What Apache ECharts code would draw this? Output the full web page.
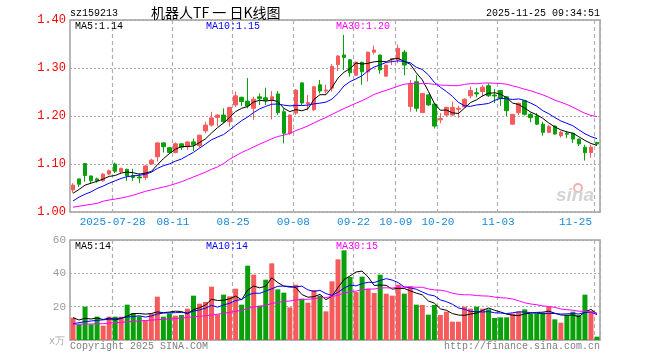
<!DOCTYPE html>
<html>
<head>
<meta charset="utf-8">
<script src="https://cdn.jsdelivr.net/npm/echarts@6/dist/echarts.min.js"></script>
<style>html,body{margin:0;padding:0;background:#fff;}#c{width:660px;height:360px;}</style>
</head>
<body>
<div id="c"></div>
<script>
// ---- data ----
const dates = [
'2025-07-17','2025-07-18','2025-07-21','2025-07-22','2025-07-23','2025-07-24','2025-07-25','2025-07-28','2025-07-29','2025-07-30','2025-07-31',
'2025-08-01','2025-08-04','2025-08-05','2025-08-06','2025-08-07','2025-08-08','2025-08-11','2025-08-12','2025-08-13','2025-08-14','2025-08-15',
'2025-08-18','2025-08-19','2025-08-20','2025-08-21','2025-08-22','2025-08-25','2025-08-26','2025-08-27','2025-08-28','2025-08-29',
'2025-09-01','2025-09-02','2025-09-03','2025-09-04','2025-09-05','2025-09-08','2025-09-09','2025-09-10','2025-09-11','2025-09-12',
'2025-09-15','2025-09-16','2025-09-17','2025-09-18','2025-09-19','2025-09-22','2025-09-23','2025-09-24','2025-09-25','2025-09-26',
'2025-09-29','2025-09-30','2025-10-09','2025-10-10','2025-10-13','2025-10-14','2025-10-15','2025-10-16','2025-10-17','2025-10-20',
'2025-10-21','2025-10-22','2025-10-23','2025-10-24','2025-10-27','2025-10-28','2025-10-29','2025-10-30','2025-10-31',
'2025-11-03','2025-11-04','2025-11-05','2025-11-06','2025-11-07','2025-11-10','2025-11-11','2025-11-12','2025-11-13','2025-11-14',
'2025-11-17','2025-11-18','2025-11-19','2025-11-20','2025-11-21','2025-11-24','2025-11-25'
];
const opens = [
1.046,1.069,1.101,1.075,1.069,1.065,1.079,1.100,1.084,1.089,1.076,1.073,1.072,1.100,1.115,1.144,1.134,1.124,1.142,1.136,
1.146,1.138,1.169,1.181,1.197,1.202,1.188,1.223,1.239,1.231,1.216,1.240,1.238,1.233,1.246,1.209,1.164,1.206,1.269,1.225,
1.213,1.265,1.252,1.258,1.307,1.327,1.317,1.285,1.312,1.292,1.333,1.327,1.283,1.317,1.317,1.333,1.220,1.2715,1.207,1.244,
1.225,1.192,1.202,1.202,1.214,1.219,1.242,1.2485,1.251,1.263,1.2437,1.253,1.240,1.183,1.207,1.232,1.2035,1.200,1.183,1.166,
1.179,1.159,1.164,1.164,1.152,1.135,1.124,1.145
];
const closes = [
1.056,1.058,1.076,1.065,1.065,1.079,1.086,1.085,1.091,1.075,1.072,1.071,1.096,1.108,1.144,1.136,1.124,1.142,1.135,1.146,
1.140,1.160,1.181,1.196,1.202,1.188,1.218,1.242,1.230,1.221,1.235,1.236,1.233,1.240,1.207,1.164,1.202,1.254,1.227,1.228,
1.261,1.252,1.254,1.303,1.325,1.322,1.290,1.312,1.292,1.333,1.3375,1.296,1.306,1.320,1.341,1.306,1.266,1.216,1.247,1.223,
1.179,1.195,1.218,1.218,1.216,1.235,1.253,1.246,1.260,1.242,1.2417,1.237,1.211,1.2035,1.2265,1.2035,1.1965,1.183,1.166,1.178,
1.1625,1.166,1.162,1.152,1.1417,1.1235,1.135,1.1417
];
const lows = [
1.040,1.052,1.063,1.060,1.061,1.063,1.077,1.081,1.079,1.065,1.065,1.060,1.067,1.098,1.105,1.124,1.121,1.122,1.129,1.129,
1.127,1.134,1.164,1.178,1.178,1.185,1.178,1.219,1.221,1.216,1.192,1.223,1.223,1.193,1.202,1.143,1.160,1.202,1.223,1.212,
1.210,1.247,1.247,1.251,1.294,1.296,1.282,1.284,1.265,1.272,1.328,1.288,1.282,1.306,1.310,1.285,1.209,1.209,1.206,1.221,
1.174,1.185,1.199,1.200,1.196,1.217,1.237,1.239,1.240,1.240,1.227,1.221,1.200,1.182,1.202,1.201,1.187,1.181,1.159,1.164,
1.161,1.155,1.154,1.144,1.1375,1.107,1.113,1.138
];
const highs = [
1.060,1.069,1.102,1.076,1.0715,1.081,1.088,1.103,1.092,1.090,1.090,1.081,1.098,1.111,1.145,1.145,1.135,1.145,1.143,1.147,
1.153,1.161,1.188,1.209,1.203,1.216,1.219,1.251,1.240,1.279,1.240,1.247,1.259,1.252,1.252,1.216,1.203,1.256,1.270,1.244,
1.262,1.275,1.265,1.308,1.327,1.369,1.318,1.313,1.313,1.334,1.3465,1.328,1.307,1.320,1.349,1.3375,1.275,1.285,1.248,1.245,
1.226,1.206,1.219,1.230,1.221,1.237,1.261,1.258,1.265,1.268,1.256,1.254,1.241,1.204,1.228,1.233,1.207,1.206,1.188,1.181,
1.180,1.169,1.169,1.165,1.153,1.140,1.140,1.146
];
const volumes = [
13.4,9.4,20,9.4,14,8.6,14,14,14,21.2,16.2,14.2,12,15.8,26,14,16,14.6,15,18.8,
26.6,21.8,22.8,32,15.4,27.2,26.2,30.8,21.2,44.6,39.2,20.6,36.2,46,30.4,28.4,19.6,33.2,24.8,22.4,
30,26.6,17.2,35.2,48.4,53.8,37.8,28.8,38,30.8,28.2,39.2,27.8,26.6,33.2,27.8,32,21.2,21,15.2,
21,15,17,11,11,20,18.8,20,18.8,18.4,13.2,13.6,13.6,15.8,17,18.4,15.8,15.8,16.4,20,
12.4,10.4,15,17,15,27.2,17.4,2
];
// moving-average values for days before enough history is visible
const ma5Early  = [1.039,1.047,1.056,1.060];
const ma10Early = [1.023,1.031,1.037,1.042,1.049,1.054,1.060,1.065,1.070];
const ma30Early = [1.010,1.012,1.014,1.016,1.018,1.0225,1.025,1.027,1.029,1.032,1.035,1.039,1.043,1.046,1.049,
                   1.052,1.055,1.059,1.063,1.068,1.073,1.078,1.083,1.089,1.094,1.101,1.110,1.117,1.124];
const vma5Early  = [13.4,12.0,13.0,12.6];
const vma10Early = [9.8,10.4,11.0,11.4,11.8,12.1,12.4,12.8,13.2];
const vma30Early = [9.4,9.5,9.5,9.6,9.7,9.8,10.1,10.4,10.6,10.9,11.2,11.4,11.7,11.9,12.2,
                    12.4,12.6,12.9,13.1,13.6,13.9,14.2,14.6,15.0,15.5,16.0,16.6,17.2,17.8];
const tickDates = ['2025-07-28','2025-08-11','2025-08-25','2025-09-08','2025-09-22','2025-10-09','2025-10-20','2025-11-03','2025-11-25'];
const tickTexts = ['2025-07-28','08-11','08-25','09-08','09-22','10-09','10-20','11-03','11-25'];
const priceMALabels = ['MA5:1.14','MA10:1.15','MA30:1.20'];
const volMALabels = ['MA5:14','MA10:14','MA30:15'];
const headerCode = 'sz159213';
const headerTitle = '机器人TF 一 日K线图';
const headerTime = '2025-11-25 09:34:51';

// ---- build ----
function ma(arr, n, early) {
  return arr.map(function (_, i) {
    if (i < n - 1) return early[i];
    let s = 0;
    for (let k = i - n + 1; k <= i; k++) s += arr[k];
    return +(s / n).toFixed(4);
  });
}
const RED = '#f65b5b', GREEN = '#0aa00a';
const MONO = 'Liberation Mono';
const kData = dates.map((d, i) => [opens[i], closes[i], lows[i], highs[i]]);
const volData = volumes.map((v, i) => ({ value: v, itemStyle: { color: closes[i] >= opens[i] ? RED : GREEN } }));
const tickIdx = tickDates.map(d => dates.indexOf(d));
const showTick = function (index) { return tickIdx.indexOf(index) >= 0; };

function xAxisCfg(grid, labels) {
  return {
    type: 'category', gridIndex: grid, data: dates, boundaryGap: true,
    axisLine: { show: false }, axisTick: { show: false },
    axisLabel: {
      show: labels, interval: showTick, color: '#1a88d6', fontFamily: MONO, fontSize: 11,
      margin: 5, padding: [0, 5, 0, 0], alignMaxLabel: 'right',
      formatter: function (v) { return tickTexts[tickDates.indexOf(v)] || ''; }
    },
    splitLine: { show: true, interval: showTick, lineStyle: { color: '#b0b0b0', type: [4, 3], width: 1.2 } }
  };
}
const lineCfg = (name, data, color, xi, yi) => ({
  name: name, type: 'line', data: data, xAxisIndex: xi, yAxisIndex: yi,
  showSymbol: false, symbol: 'none', silent: true, animation: false,
  lineStyle: { color: color, width: 1 }
});

const chart = echarts.init(document.getElementById('c'), null, { renderer: 'canvas' });
const txt = (t, x, y, color, size, font, align) => ({
  type: 'text', x: x, y: y, z: 100,
  style: { text: t, fill: color, font: (size || 10) + 'px ' + (font || MONO), textAlign: align || 'left', textVerticalAlign: 'middle' }
});
chart.setOption({
  animation: false,
  backgroundColor: '#fff',
  grid: [
    { left: 70, top: 20, width: 530, height: 192, show: true, borderColor: '#a0a0a0', borderWidth: 1.5, backgroundColor: 'transparent' },
    { left: 70, top: 240, width: 530, height: 100, show: true, borderColor: '#a0a0a0', borderWidth: 1.5, backgroundColor: 'transparent' }
  ],
  xAxis: [xAxisCfg(0, true), xAxisCfg(1, false)],
  yAxis: [
    { type: 'value', gridIndex: 0, min: 1.0, max: 1.4, interval: 0.1, scale: true,
      axisLine: { show: false }, axisTick: { show: false },
      axisLabel: { color: '#ff0000', fontFamily: MONO, fontSize: 12, margin: 4, formatter: v => v.toFixed(2) },
      splitLine: { lineStyle: { color: '#aaaaaa', type: [2, 2], width: 1 } } },
    { type: 'value', gridIndex: 1, min: 0, max: 60, interval: 20,
      axisLine: { show: false }, axisTick: { show: false },
      axisLabel: { color: '#999999', fontFamily: MONO, fontSize: 11, margin: 4, formatter: v => v === 0 ? '' : String(v) },
      splitLine: { lineStyle: { color: '#aaaaaa', type: [2, 2], width: 1 } } }
  ],
  series: [
    { name: 'K', type: 'candlestick', data: kData, xAxisIndex: 0, yAxisIndex: 0, barWidth: 4,
      itemStyle: { color: RED, color0: GREEN, borderColor: RED, borderColor0: GREEN, borderWidth: 1 } },
    lineCfg('MA5', ma(closes, 5, ma5Early), '#000000', 0, 0),
    lineCfg('MA10', ma(closes, 10, ma10Early), '#0000ff', 0, 0),
    lineCfg('MA30', ma(closes, 30, ma30Early), '#ff00ff', 0, 0),
    { name: 'VOL', type: 'bar', data: volData, xAxisIndex: 1, yAxisIndex: 1, barWidth: 5 },
    lineCfg('VMA5', ma(volumes, 5, vma5Early), '#000000', 1, 1),
    lineCfg('VMA10', ma(volumes, 10, vma10Early), '#0000ff', 1, 1),
    lineCfg('VMA30', ma(volumes, 30, vma30Early), '#ff00ff', 1, 1)
  ],
  graphic: [
    txt(headerCode, 70, 13, '#000', 10),
    txt(headerTitle, 151, 13, '#000', 14, '"Noto Sans CJK SC"'),
    txt(headerTime, 600, 13, '#000', 10, MONO, 'right'),
    txt(priceMALabels[0], 75, 26, '#000000', 10),
    txt(priceMALabels[1], 206, 26, '#0000ff', 10),
    txt(priceMALabels[2], 336, 26, '#ff00ff', 10),
    txt(volMALabels[0], 75, 246, '#000000', 10),
    txt(volMALabels[1], 206, 246, '#0000ff', 10),
    txt(volMALabels[2], 336, 246, '#ff00ff', 10),
    txt('x万', 65, 341, '#aaaaaa', 10, MONO, 'right'),
    txt('Copyright 2025 SINA.COM', 70, 346, '#808080', 10),
    txt('http://finance.sina.com.cn', 600, 346, '#808080', 10, MONO, 'right'),
    { type: 'circle', shape: { cx: 578, cy: 188, r: 4 }, style: { fill: 'none', stroke: '#f2b0b0', lineWidth: 2 }, z: 1 },
    { type: 'text', x: 556, y: 196, z: 1,
      style: { text: 'sina', fill: '#d4d4d4', font: 'italic bold 19px "Liberation Sans"', textVerticalAlign: 'middle' } }
  ]
});
</script>
</body>
</html>
